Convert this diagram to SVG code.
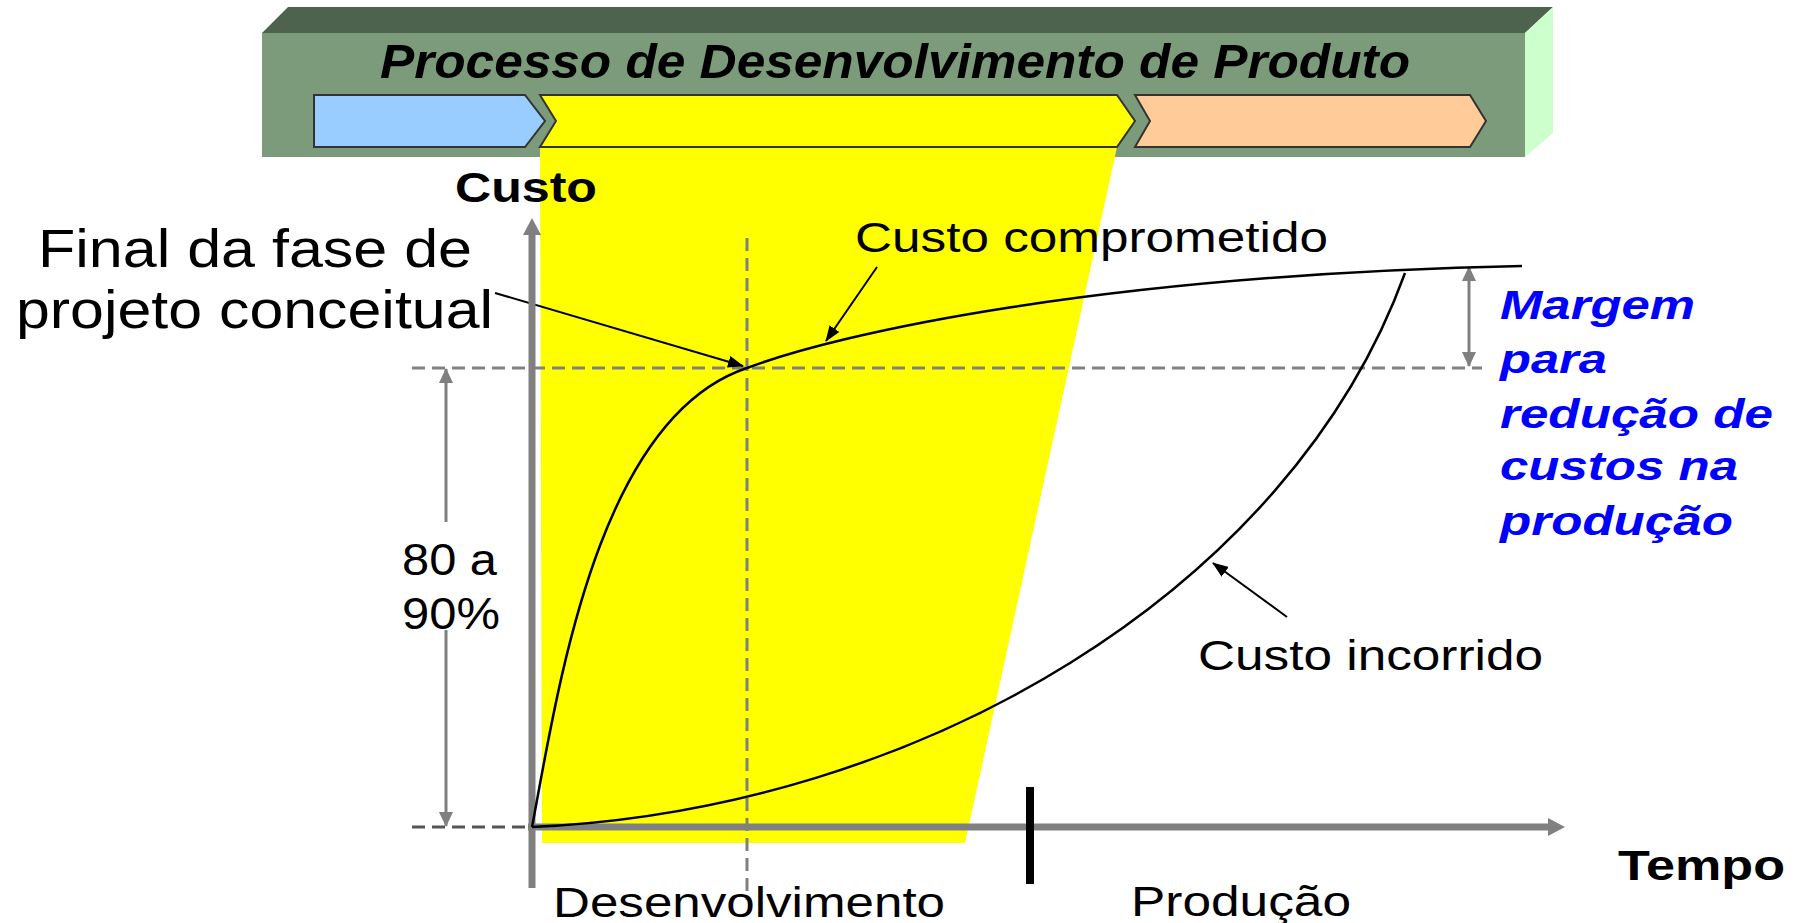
<svg xmlns="http://www.w3.org/2000/svg" width="1797" height="923" viewBox="0 0 1797 923">
<style>
.t{font-family:"Liberation Sans",Arial,sans-serif;fill:#000}
.b{font-weight:bold}
.blue{font-family:"Liberation Sans",Arial,sans-serif;font-weight:bold;font-style:italic;fill:#0000ff;font-size:41px}
.dash{stroke:#808080;stroke-width:3;fill:none;stroke-dasharray:13 7}
.axis{stroke:#808080;stroke-width:7;fill:none}
.curve{stroke:#000;stroke-width:2.5;fill:none}
.ptr{stroke:#000;stroke-width:2;fill:none;marker-end:url(#blk)}
.dim{stroke:#808080;stroke-width:3;fill:none}
.chev{stroke:#333;stroke-width:2}
</style>
<defs>
<marker id="blk" markerUnits="userSpaceOnUse" markerWidth="16" markerHeight="12" viewBox="0 0 16 12" refX="15" refY="6" orient="auto">
<path d="M0,0 L16,6 L0,12 z" fill="#000"/>
</marker>
<marker id="ax" markerUnits="userSpaceOnUse" markerWidth="17" markerHeight="18" viewBox="0 0 17 18" refX="0" refY="9" orient="auto">
<path d="M0,0 L17,9 L0,18 z" fill="#808080"/>
</marker>
<marker id="dm" markerUnits="userSpaceOnUse" markerWidth="15" markerHeight="14" viewBox="0 0 15 14" refX="14" refY="7" orient="auto">
<path d="M0,0 L15,7 L0,14 z" fill="#808080"/>
</marker>
</defs>

<g id="banner">
<polygon points="288,7 1553,7 1525,33 262,33" fill="#4e634e"/>
<rect x="262" y="33" width="1263" height="124" fill="#7b9b7b"/>
<polygon points="1525,33 1553,7 1553,133 1525,157" fill="#ccffcc"/>
</g>

<g id="dev-band">
<polygon points="540,147 1117,147 965,843 542,843" fill="#ffff00"/>
</g>

<g id="phases">
<polygon class="chev" points="314,95 525,95 545,121 525,147 314,147" fill="#99ccff"/>
<polygon class="chev" points="540,95 1117,95 1135,121 1117,147 540,147 556,121" fill="#ffff00"/>
<polygon class="chev" points="1135,95 1470,95 1486,121 1470,147 1135,147 1150,121" fill="#ffcc99"/>
</g>

<g id="banner-title">
<text class="t b" x="380" y="78" font-size="48" font-style="italic" textLength="1030" lengthAdjust="spacingAndGlyphs">Processo de Desenvolvimento de Produto</text>
</g>

<g id="connectors">
<line class="dash" x1="412" y1="368" x2="1482" y2="368"/>
<line class="dash" x1="747" y1="238" x2="747" y2="900"/>
<line x1="412" y1="827" x2="532" y2="827" stroke="#555" stroke-width="3" stroke-dasharray="13 7"/>
<line class="dim" x1="446" y1="522" x2="446" y2="369" marker-end="url(#dm)"/>
<line class="dim" x1="446" y1="630" x2="446" y2="826" marker-end="url(#dm)"/>
<line class="dim" x1="1469" y1="316" x2="1469" y2="267" marker-end="url(#dm)"/>
<line class="dim" x1="1469" y1="316" x2="1469" y2="366" marker-end="url(#dm)"/>
<line class="ptr" x1="495" y1="293" x2="743" y2="366"/>
<line class="ptr" x1="877" y1="267" x2="826" y2="341"/>
<line class="ptr" x1="1287" y1="617" x2="1213" y2="563"/>
<line class="axis" x1="532" y1="888" x2="532" y2="235" marker-end="url(#ax)"/>
<line class="axis" x1="528" y1="827" x2="1548" y2="827" marker-end="url(#ax)"/>
<line x1="1030" y1="787" x2="1030" y2="884" stroke="#000" stroke-width="8"/>
</g>

<g id="custo-comprometido-curve">
<path class="curve" d="M532,827 C558,690 597,418 747,368 C840,333 1100,275 1522,266"/>
</g>
<g id="custo-incorrido-curve">
<path class="curve" d="M532,827 C920,810 1290,590 1405,273"/>
</g>

<g id="labels">
<text class="t b" x="455" y="202" font-size="42" textLength="142" lengthAdjust="spacingAndGlyphs">Custo</text>
<text class="t" x="38" y="267" font-size="54" textLength="434" lengthAdjust="spacingAndGlyphs">Final da fase de</text>
<text class="t" x="16" y="328" font-size="54" textLength="477" lengthAdjust="spacingAndGlyphs">projeto conceitual</text>
<text class="t" x="855" y="252" font-size="43" textLength="473" lengthAdjust="spacingAndGlyphs">Custo comprometido</text>
<text class="t" x="402" y="575" font-size="45" textLength="95" lengthAdjust="spacingAndGlyphs">80 a</text>
<text class="t" x="402" y="629" font-size="45" textLength="98" lengthAdjust="spacingAndGlyphs">90%</text>
<text class="t" x="1198" y="670" font-size="42" textLength="345" lengthAdjust="spacingAndGlyphs">Custo incorrido</text>
<text class="t" x="553" y="917" font-size="43" textLength="392" lengthAdjust="spacingAndGlyphs">Desenvolvimento</text>
<text class="t" x="1131" y="916" font-size="43" textLength="220" lengthAdjust="spacingAndGlyphs">Produção</text>
<text class="t b" x="1618" y="880" font-size="42" textLength="167" lengthAdjust="spacingAndGlyphs">Tempo</text>
</g>

<g id="margem-label">
<text class="blue" x="1500" y="319" textLength="195" lengthAdjust="spacingAndGlyphs">Margem</text>
<text class="blue" x="1500" y="373" textLength="107" lengthAdjust="spacingAndGlyphs">para</text>
<text class="blue" x="1500" y="428" textLength="273" lengthAdjust="spacingAndGlyphs">redução de</text>
<text class="blue" x="1500" y="480" textLength="238" lengthAdjust="spacingAndGlyphs">custos na</text>
<text class="blue" x="1500" y="535" textLength="233" lengthAdjust="spacingAndGlyphs">produção</text>
</g>
</svg>
